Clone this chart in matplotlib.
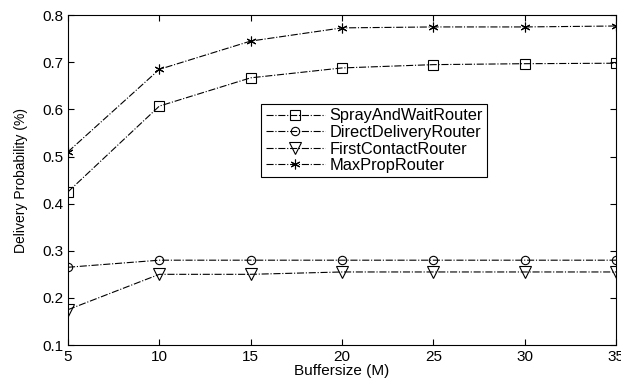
import matplotlib
matplotlib.use('Agg')
import matplotlib.pyplot as plt

buffersize = [5, 10, 15, 20, 25, 30, 35]
spray_wait = [0.425, 0.607, 0.667, 0.688, 0.695, 0.697, 0.698]
direct_delivery = [0.265, 0.280, 0.280, 0.280, 0.280, 0.280, 0.280]
first_contact = [0.175, 0.250, 0.250, 0.255, 0.255, 0.255, 0.255]
max_prop = [0.510, 0.685, 0.745, 0.773, 0.775, 0.775, 0.777]

plt.rcParams['font.family'] = ['Liberation Sans', 'DejaVu Sans']

fig = plt.figure(figsize=(6.21, 3.79), dpi=100)
ax = fig.add_axes([0.1095, 0.0897, 0.8825, 0.8703])

style = dict(color='black', linestyle='-.', linewidth=0.8, markerfacecolor='none',
             markeredgecolor='black', markeredgewidth=0.8)
ax.plot(buffersize, spray_wait, marker='s', markersize=7, label='SprayAndWaitRouter', **style)
ax.plot(buffersize, direct_delivery, marker='o', markersize=6, label='DirectDeliveryRouter', **style)
ax.plot(buffersize, first_contact, marker='v', markersize=8, label='FirstContactRouter', **style)
ax.plot(buffersize, max_prop, marker=(6, 2, 0), markersize=7, label='MaxPropRouter', **style)

ax.set_xlim(5, 35)
ax.set_ylim(0.1, 0.8)
ax.set_xticks(buffersize)
ax.set_yticks([0.1, 0.2, 0.3, 0.4, 0.5, 0.6, 0.7, 0.8])
ax.tick_params(direction='in', top=True, right=True, labelsize=11, length=4, width=0.8)
ax.set_xlabel('Buffersize (M)', fontsize=11, labelpad=0)
ax.set_ylabel('Delivery Probability (%)', fontsize=10, labelpad=10)
for sp in ax.spines.values():
    sp.set_linewidth(0.8)

leg = ax.legend(loc='upper left', bbox_to_anchor=(0.353, 0.73), fontsize=11.8,
                frameon=True, fancybox=False, edgecolor='black', framealpha=1,
                handlelength=3.6, labelspacing=0.1, borderpad=0.25, handletextpad=0.3,
                borderaxespad=0)
leg.get_frame().set_linewidth(0.8)

fig.savefig('out.png', dpi=100)
